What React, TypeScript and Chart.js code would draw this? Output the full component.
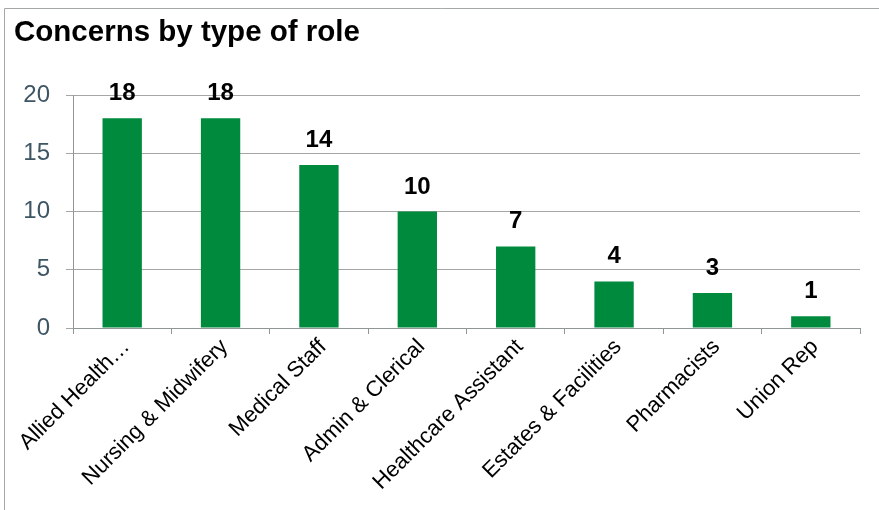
import React, { useEffect, useRef } from "react";
import { Chart, registerables } from "chart.js";

Chart.register(...registerables);

const TITLE = "Concerns by type of role";
const categories = [
  "Allied Health…",
  "Nursing & Midwifery",
  "Medical Staff",
  "Admin & Clerical",
  "Healthcare Assistant",
  "Estates & Facilities",
  "Pharmacists",
  "Union Rep",
];
const concerns = [18, 18, 14, 10, 7, 4, 3, 1];
const yTicks = [0, 5, 10, 15, 20];

const FONT = "'Liberation Sans', Arial, sans-serif";

export default function App() {
  const ref = useRef<HTMLCanvasElement | null>(null);

  useEffect(() => {
    if (!ref.current) return;
    const framePlugin = {
      id: "frameAndTitle",
      afterDraw(chart: any) {
        const ctx = chart.ctx;
        ctx.save();
        ctx.strokeStyle = "#A5A8A8";
        ctx.lineWidth = 1;
        ctx.beginPath();
        ctx.moveTo(4.5, 510);
        ctx.lineTo(4.5, 8.5);
        ctx.lineTo(879, 8.5);
        ctx.stroke();
        ctx.fillStyle = "#000";
        ctx.font = `bold 29.5px ${FONT}`;
        ctx.textAlign = "left";
        ctx.textBaseline = "alphabetic";
        ctx.fillText(TITLE, 14, 41);
        ctx.restore();
      },
    };
    const labelPlugin = {
      id: "barLabels",
      afterDatasetsDraw(chart: any) {
        const ctx = chart.ctx;
        const meta = chart.getDatasetMeta(0);
        ctx.save();
        ctx.fillStyle = "#000";
        ctx.font = `bold 24px ${FONT}`;
        ctx.textAlign = "center";
        ctx.textBaseline = "alphabetic";
        meta.data.forEach((el: any, i: number) => {
          ctx.fillText(String(concerns[i]), el.x, el.y - 18);
        });
        ctx.restore();
      },
    };
    const chart = new Chart(ref.current, {
      type: "bar",
      data: {
        labels: categories,
        datasets: [
          {
            data: concerns,
            backgroundColor: "#008A3E",
            borderWidth: 0,
            barPercentage: 0.4,
            categoryPercentage: 1,
          },
        ],
      },
      options: {
        animation: false,
        responsive: false,
        maintainAspectRatio: false,
        layout: { padding: { top: 95, right: 19, left: 0, bottom: 0 } },
        plugins: {
          legend: { display: false },
          title: { display: false },
          tooltip: { enabled: false },
        },
        scales: {
          x: {
            afterFit: (s: any) => {
              s.height = 182;
            },
            border: { display: true, color: "#8F9797", width: 1 },
            grid: {
              display: true,
              drawOnChartArea: false,
              drawTicks: true,
              tickLength: 6,
              color: "#8F9797",
            },
            ticks: {
              color: "#000",
              font: { family: FONT, size: 22 },
              minRotation: 45,
              maxRotation: 45,
              autoSkip: false,
              padding: 0,
              labelOffset: 4,
            },
          },
          y: {
            min: 0,
            max: 20,
            afterFit: (s: any) => {
              s.width = 73;
            },
            afterBuildTicks: (s: any) => {
              s.ticks = yTicks.map((v) => ({ value: v }));
            },
            border: { display: true, color: "#8F9797", width: 1 },
            grid: {
              color: "#A6A6A6",
              drawTicks: true,
              tickLength: 7,
            },
            ticks: {
              color: "#3E5563",
              font: { family: FONT, size: 24 },
              padding: 16,
            },
          },
        },
      },
      plugins: [framePlugin, labelPlugin],
    });
    return () => chart.destroy();
  }, []);

  return (
    <div style={{ position: "absolute", left: 0, top: 0, width: 879, height: 510, background: "#fff" }}>
      <canvas ref={ref} width={879} height={510} style={{ display: "block" }} />
    </div>
  );
}
